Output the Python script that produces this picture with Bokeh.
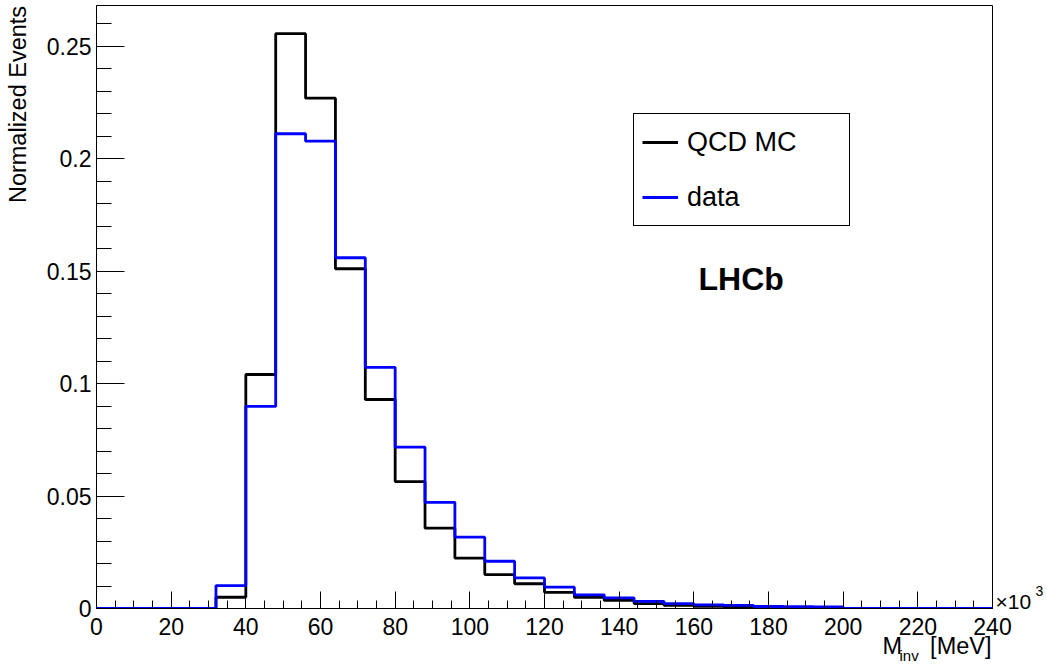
import numpy as np
from bokeh.plotting import figure
from bokeh.models import (FixedTicker, Label, Legend, LegendItem, Range1d,
                          LinearAxis)
from bokeh.embed import file_html
from bokeh.resources import INLINE

# ---------------- data ----------------
bin_edges = list(range(0, 241, 8))  # x10^3 MeV
qcd_mc = [0, 0, 0, 0, 0.0050, 0.1040, 0.2555, 0.2268, 0.1510, 0.0929,
          0.0564, 0.0357, 0.0224, 0.0151, 0.0110, 0.0072, 0.0050, 0.0036,
          0.0022, 0.0014, 0.0010, 0.0006, 0.0005, 0.0004, 0.0003,
          0, 0, 0, 0, 0]
data_vals = [0, 0, 0, 0, 0.0102, 0.0898, 0.2110, 0.2077, 0.1559, 0.1072,
             0.0717, 0.0472, 0.0317, 0.0210, 0.0136, 0.0095, 0.0061, 0.0047,
             0.0032, 0.0022, 0.0016, 0.0014, 0.0009, 0.0008, 0.0007,
             0, 0, 0, 0, 0]
x_ticks = list(range(0, 241, 20))
x_minor = list(range(0, 241, 5))
y_ticks = [0, 0.05, 0.1, 0.15, 0.2, 0.25]
y_tick_labels = ["0", "0.05", "0.1", "0.15", "0.2", "0.25"]
y_minor = [round(i * 0.01, 2) for i in range(0, 27)]
series_labels = ["QCD MC", "data"]
y_title = "Normalized Events"
x_title_parts = ["M", "inv", "[MeV]"]
x_exponent = ["×10", "3"]

FONT = "Liberation Sans"
W, H = 1046, 671
FL, FR, FT, FB = 96, 992, 5, 608  # frame in canvas px
XMAX = 240
YMAX = 0.268


def dx(px):
    return (px - FL) / (FR - FL) * XMAX


def dy(py):
    return (FB - py) / (FB - FT) * YMAX


p = figure(width=W, height=H, output_backend="svg", toolbar_location=None,
           x_range=Range1d(0, XMAX), y_range=Range1d(0, YMAX), title=None,
           min_border_left=FL, min_border_right=W - FR,
           min_border_top=FT, min_border_bottom=H - FB)
p.background_fill_color = "white"
p.border_fill_color = "white"
p.outline_line_color = "black"
p.outline_line_width = 1
p.outline_line_alpha = 1
p.xgrid.visible = False
p.ygrid.visible = False

# main axes
for ax in (p.xaxis[0], p.yaxis[0]):
    ax.axis_line_color = "black"
    ax.axis_line_width = 1
    ax.major_tick_line_color = "black"
    ax.minor_tick_line_color = "black"
    ax.major_tick_out = 0
    ax.minor_tick_out = 0
    ax.major_label_text_font = FONT
    ax.major_label_text_font_size = "23px"
    ax.major_label_text_color = "black"

p.xaxis.ticker = FixedTicker(ticks=x_ticks, minor_ticks=x_minor)
p.xaxis.major_tick_in = 17
p.xaxis.minor_tick_in = 8
p.xaxis.major_label_standoff = 9

p.yaxis.ticker = FixedTicker(ticks=y_ticks, minor_ticks=y_minor)
p.yaxis.major_label_overrides = dict(zip(y_ticks, y_tick_labels))
p.yaxis.major_tick_in = 28
p.yaxis.minor_tick_in = 15
p.yaxis.major_label_standoff = 5


def text_axis(side, ticks, labels, size, standoff, orientation="horizontal"):
    ax = LinearAxis(ticker=FixedTicker(ticks=ticks, minor_ticks=[]),
                    major_label_overrides=dict(zip(ticks, labels)),
                    axis_line_color=None, major_tick_line_color=None,
                    minor_tick_line_color=None,
                    major_tick_in=0, major_tick_out=0,
                    minor_tick_in=0, minor_tick_out=0,
                    major_label_text_font=FONT,
                    major_label_text_font_size=size,
                    major_label_text_color="black",
                    major_label_standoff=standoff,
                    major_label_orientation=orientation)
    p.add_layout(ax, side)
    return ax


# y axis title (outer left axis carrying one rotated label)
text_axis("left", [dy(104)], [y_title], "23.5px", 13, "vertical")
# x axis title: "M" and "[MeV]", then subscript "inv"
text_axis("below", [dx(891.8), dx(960.3)],
          [x_title_parts[0], x_title_parts[2]], "23.5px", -5)
text_axis("below", [dx(908.6)], [x_title_parts[1]], "15px", -15)
# x10^3 at right end of the x axis
text_axis("right", [dy(601)], [x_exponent[0]], "21px", 3)
text_axis("right", [dy(590)], [x_exponent[1]], "14px", 1)

# histograms
r1 = p.step(x=bin_edges, y=qcd_mc + [qcd_mc[-1]], mode="after",
            line_color="black", line_width=2.8)
r2 = p.step(x=bin_edges, y=data_vals + [data_vals[-1]], mode="after",
            line_color="blue", line_width=2.8)

legend = Legend(items=[LegendItem(label=series_labels[0], renderers=[r1]),
                       LegendItem(label=series_labels[1], renderers=[r2])],
                location=(633 - FL, FB - 226),
                padding=8, spacing=15, margin=0,
                glyph_width=36, glyph_height=40, label_height=40,
                label_width=154, label_standoff=9,
                label_text_font=FONT, label_text_font_size="27px",
                label_text_color="black",
                border_line_color="black", border_line_width=1,
                border_line_alpha=1,
                background_fill_color="white", background_fill_alpha=1)
p.add_layout(legend)

# LHCb
p.add_layout(Label(x=dx(698), y=dy(278), text="LHCb", text_font=FONT,
                   text_font_size="32px", text_font_style="bold",
                   text_color="black",
                   text_align="left", text_baseline="alphabetic"))

open("out.html", "w").write(file_html(p, INLINE))
